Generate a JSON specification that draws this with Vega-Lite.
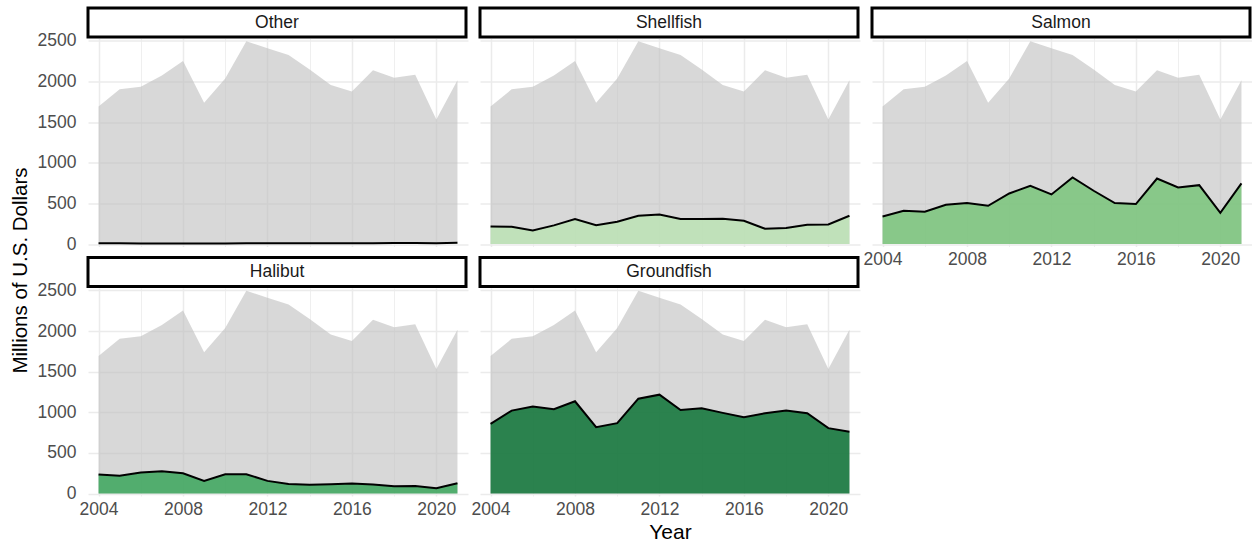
{
  "$schema": "https://vega.github.io/schema/vega-lite/v6.json",
  "background": "white",
  "padding": {"left": 10, "top": 6, "right": 0, "bottom": 0},
  "config": {"view": {"stroke": null}, "font": "Liberation Sans"},
  "datasets": {
    "totals": [
      {"year": 2004, "total": 1694}, {"year": 2005, "total": 1904}, {"year": 2006, "total": 1937},
      {"year": 2007, "total": 2076}, {"year": 2008, "total": 2253}, {"year": 2009, "total": 1739},
      {"year": 2010, "total": 2039}, {"year": 2011, "total": 2497}, {"year": 2012, "total": 2410},
      {"year": 2013, "total": 2327}, {"year": 2014, "total": 2150}, {"year": 2015, "total": 1957},
      {"year": 2016, "total": 1879}, {"year": 2017, "total": 2138}, {"year": 2018, "total": 2048},
      {"year": 2019, "total": 2085}, {"year": 2020, "total": 1534}, {"year": 2021, "total": 2015}
    ],
    "catch": [
      {"year": 2004, "species": "Other", "value": 10}, {"year": 2005, "species": "Other", "value": 9},
      {"year": 2006, "species": "Other", "value": 8}, {"year": 2007, "species": "Other", "value": 8},
      {"year": 2008, "species": "Other", "value": 7}, {"year": 2009, "species": "Other", "value": 7},
      {"year": 2010, "species": "Other", "value": 8}, {"year": 2011, "species": "Other", "value": 10},
      {"year": 2012, "species": "Other", "value": 11}, {"year": 2013, "species": "Other", "value": 10},
      {"year": 2014, "species": "Other", "value": 9}, {"year": 2015, "species": "Other", "value": 9},
      {"year": 2016, "species": "Other", "value": 10}, {"year": 2017, "species": "Other", "value": 11},
      {"year": 2018, "species": "Other", "value": 13}, {"year": 2019, "species": "Other", "value": 14},
      {"year": 2020, "species": "Other", "value": 10}, {"year": 2021, "species": "Other", "value": 15},

      {"year": 2004, "species": "Shellfish", "value": 215}, {"year": 2005, "species": "Shellfish", "value": 212},
      {"year": 2006, "species": "Shellfish", "value": 166}, {"year": 2007, "species": "Shellfish", "value": 230},
      {"year": 2008, "species": "Shellfish", "value": 307}, {"year": 2009, "species": "Shellfish", "value": 232},
      {"year": 2010, "species": "Shellfish", "value": 275}, {"year": 2011, "species": "Shellfish", "value": 348},
      {"year": 2012, "species": "Shellfish", "value": 365}, {"year": 2013, "species": "Shellfish", "value": 309},
      {"year": 2014, "species": "Shellfish", "value": 307}, {"year": 2015, "species": "Shellfish", "value": 311},
      {"year": 2016, "species": "Shellfish", "value": 287}, {"year": 2017, "species": "Shellfish", "value": 189},
      {"year": 2018, "species": "Shellfish", "value": 197}, {"year": 2019, "species": "Shellfish", "value": 238},
      {"year": 2020, "species": "Shellfish", "value": 242}, {"year": 2021, "species": "Shellfish", "value": 348},

      {"year": 2004, "species": "Salmon", "value": 340}, {"year": 2005, "species": "Salmon", "value": 410},
      {"year": 2006, "species": "Salmon", "value": 398}, {"year": 2007, "species": "Salmon", "value": 484},
      {"year": 2008, "species": "Salmon", "value": 504}, {"year": 2009, "species": "Salmon", "value": 471},
      {"year": 2010, "species": "Salmon", "value": 623}, {"year": 2011, "species": "Salmon", "value": 717},
      {"year": 2012, "species": "Salmon", "value": 611}, {"year": 2013, "species": "Salmon", "value": 820},
      {"year": 2014, "species": "Salmon", "value": 656}, {"year": 2015, "species": "Salmon", "value": 504},
      {"year": 2016, "species": "Salmon", "value": 492}, {"year": 2017, "species": "Salmon", "value": 807},
      {"year": 2018, "species": "Salmon", "value": 697}, {"year": 2019, "species": "Salmon", "value": 725},
      {"year": 2020, "species": "Salmon", "value": 385}, {"year": 2021, "species": "Salmon", "value": 746},

      {"year": 2004, "species": "Halibut", "value": 234}, {"year": 2005, "species": "Halibut", "value": 220},
      {"year": 2006, "species": "Halibut", "value": 258}, {"year": 2007, "species": "Halibut", "value": 275},
      {"year": 2008, "species": "Halibut", "value": 250}, {"year": 2009, "species": "Halibut", "value": 156},
      {"year": 2010, "species": "Halibut", "value": 238}, {"year": 2011, "species": "Halibut", "value": 238},
      {"year": 2012, "species": "Halibut", "value": 156}, {"year": 2013, "species": "Halibut", "value": 119},
      {"year": 2014, "species": "Halibut", "value": 107}, {"year": 2015, "species": "Halibut", "value": 115},
      {"year": 2016, "species": "Halibut", "value": 123}, {"year": 2017, "species": "Halibut", "value": 111},
      {"year": 2018, "species": "Halibut", "value": 90}, {"year": 2019, "species": "Halibut", "value": 94},
      {"year": 2020, "species": "Halibut", "value": 66}, {"year": 2021, "species": "Halibut", "value": 127},

      {"year": 2004, "species": "Groundfish", "value": 858}, {"year": 2005, "species": "Groundfish", "value": 1021},
      {"year": 2006, "species": "Groundfish", "value": 1070}, {"year": 2007, "species": "Groundfish", "value": 1038},
      {"year": 2008, "species": "Groundfish", "value": 1136}, {"year": 2009, "species": "Groundfish", "value": 817},
      {"year": 2010, "species": "Groundfish", "value": 866}, {"year": 2011, "species": "Groundfish", "value": 1168},
      {"year": 2012, "species": "Groundfish", "value": 1217}, {"year": 2013, "species": "Groundfish", "value": 1029},
      {"year": 2014, "species": "Groundfish", "value": 1050}, {"year": 2015, "species": "Groundfish", "value": 993},
      {"year": 2016, "species": "Groundfish", "value": 940}, {"year": 2017, "species": "Groundfish", "value": 989},
      {"year": 2018, "species": "Groundfish", "value": 1021}, {"year": 2019, "species": "Groundfish", "value": 989},
      {"year": 2020, "species": "Groundfish", "value": 805}, {"year": 2021, "species": "Groundfish", "value": 760}
    ]
  },
  "columns": 3,
  "bounds": "flush",
  "spacing": {"row": 1.5, "column": 12},
  "concat": [
    {
      "width": 378, "height": 29,
      "view": {"stroke": "black", "strokeWidth": 3, "fill": "white"},
      "data": {"name": "catch"},
      "transform": [{"filter": "datum.species == 'Other' && datum.year == 2004"}],
      "mark": {"type": "text", "fontSize": 17.5, "color": "#1a1a1a", "font": "Liberation Sans"},
      "encoding": {"text": {"field": "species", "type": "nominal"}}
    },
    {
      "width": 378, "height": 29,
      "view": {"stroke": "black", "strokeWidth": 3, "fill": "white"},
      "data": {"name": "catch"},
      "transform": [{"filter": "datum.species == 'Shellfish' && datum.year == 2004"}],
      "mark": {"type": "text", "fontSize": 17.5, "color": "#1a1a1a", "font": "Liberation Sans"},
      "encoding": {"text": {"field": "species", "type": "nominal"}}
    },
    {
      "width": 378, "height": 29,
      "view": {"stroke": "black", "strokeWidth": 3, "fill": "white"},
      "data": {"name": "catch"},
      "transform": [{"filter": "datum.species == 'Salmon' && datum.year == 2004"}],
      "mark": {"type": "text", "fontSize": 17.5, "color": "#1a1a1a", "font": "Liberation Sans"},
      "encoding": {"text": {"field": "species", "type": "nominal"}}
    },
    {
      "width": 380, "height": 208,
      "layer": [
        {
          "data": {"name": "totals"},
          "mark": {"type": "area", "color": "#bebebe", "opacity": 0.6},
          "encoding": {
            "x": {"field": "year", "type": "quantitative", "scale": {"domain": [2003.5, 2021.5], "nice": false, "zero": false},
              "axis": {"title": null, "labels": false, "ticks": false, "domain": false, "values": [2004, 2006, 2008, 2010, 2012, 2014, 2016, 2018, 2020], "gridColor": "#ebebeb", "gridWidth": {"condition": {"test": "datum.value % 4 == 0", "value": 1.5}, "value": 0.8}}},
            "y": {"field": "total", "type": "quantitative", "scale": {"domain": [-30, 2530], "nice": false, "zero": false},
              "axis": {"title": null, "ticks": false, "domain": false, "values": [0, 250, 500, 750, 1000, 1250, 1500, 1750, 2000, 2250, 2500], "format": "d", "labelExpr": "datum.value % 500 == 0 ? datum.label : ''", "labelFontSize": 17.5, "labelColor": "#4d4d4d", "labelPadding": 12, "gridColor": "#ebebeb", "gridWidth": {"condition": {"test": "datum.value % 500 == 0", "value": 1.5}, "value": 0.8}}},
            "y2": {"datum": 0}
          }
        },
        {
          "data": {"name": "catch"},
          "transform": [{"filter": "datum.species == 'Other'"}],
          "mark": {"type": "area", "opacity": 0.8},
          "encoding": {
            "x": {"field": "year", "type": "quantitative"},
            "y": {"field": "value", "type": "quantitative"},
            "y2": {"datum": 0},
            "color": {"field": "species", "type": "nominal", "legend": null, "scale": {"domain": ["Other", "Shellfish", "Salmon", "Halibut", "Groundfish"], "range": ["#edf8e9", "#bae4b3", "#74c476", "#31a354", "#006d2c"]}}
          }
        },
        {
          "data": {"name": "catch"},
          "transform": [{"filter": "datum.species == 'Other'"}],
          "mark": {"type": "line", "color": "black", "strokeWidth": 2},
          "encoding": {
            "x": {"field": "year", "type": "quantitative"},
            "y": {"field": "value", "type": "quantitative"}
          }
        }
      ]
    },
    {
      "width": 380, "height": 208,
      "layer": [
        {
          "data": {"name": "totals"},
          "mark": {"type": "area", "color": "#bebebe", "opacity": 0.6},
          "encoding": {
            "x": {"field": "year", "type": "quantitative", "scale": {"domain": [2003.5, 2021.5], "nice": false, "zero": false},
              "axis": {"title": null, "labels": false, "ticks": false, "domain": false, "values": [2004, 2006, 2008, 2010, 2012, 2014, 2016, 2018, 2020], "gridColor": "#ebebeb", "gridWidth": {"condition": {"test": "datum.value % 4 == 0", "value": 1.5}, "value": 0.8}}},
            "y": {"field": "total", "type": "quantitative", "scale": {"domain": [-30, 2530], "nice": false, "zero": false},
              "axis": {"title": null, "labels": false, "ticks": false, "domain": false, "values": [0, 250, 500, 750, 1000, 1250, 1500, 1750, 2000, 2250, 2500], "gridColor": "#ebebeb", "gridWidth": {"condition": {"test": "datum.value % 500 == 0", "value": 1.5}, "value": 0.8}}},
            "y2": {"datum": 0}
          }
        },
        {
          "data": {"name": "catch"},
          "transform": [{"filter": "datum.species == 'Shellfish'"}],
          "mark": {"type": "area", "opacity": 0.8},
          "encoding": {
            "x": {"field": "year", "type": "quantitative"},
            "y": {"field": "value", "type": "quantitative"},
            "y2": {"datum": 0},
            "color": {"field": "species", "type": "nominal", "legend": null, "scale": {"domain": ["Other", "Shellfish", "Salmon", "Halibut", "Groundfish"], "range": ["#edf8e9", "#bae4b3", "#74c476", "#31a354", "#006d2c"]}}
          }
        },
        {
          "data": {"name": "catch"},
          "transform": [{"filter": "datum.species == 'Shellfish'"}],
          "mark": {"type": "line", "color": "black", "strokeWidth": 2},
          "encoding": {
            "x": {"field": "year", "type": "quantitative"},
            "y": {"field": "value", "type": "quantitative"}
          }
        }
      ]
    },
    {
      "width": 380, "height": 208,
      "layer": [
        {
          "data": {"name": "totals"},
          "mark": {"type": "area", "color": "#bebebe", "opacity": 0.6},
          "encoding": {
            "x": {"field": "year", "type": "quantitative", "scale": {"domain": [2003.5, 2021.5], "nice": false, "zero": false},
              "axis": {"title": null, "ticks": false, "domain": false, "labelFlush": false, "values": [2004, 2006, 2008, 2010, 2012, 2014, 2016, 2018, 2020], "format": "d", "labelExpr": "datum.value % 4 == 0 ? datum.label : ''", "labelFontSize": 17.5, "labelColor": "#4d4d4d", "labelPadding": 4, "gridColor": "#ebebeb", "gridWidth": {"condition": {"test": "datum.value % 4 == 0", "value": 1.5}, "value": 0.8}}},
            "y": {"field": "total", "type": "quantitative", "scale": {"domain": [-30, 2530], "nice": false, "zero": false},
              "axis": {"title": null, "labels": false, "ticks": false, "domain": false, "values": [0, 250, 500, 750, 1000, 1250, 1500, 1750, 2000, 2250, 2500], "gridColor": "#ebebeb", "gridWidth": {"condition": {"test": "datum.value % 500 == 0", "value": 1.5}, "value": 0.8}}},
            "y2": {"datum": 0}
          }
        },
        {
          "data": {"name": "catch"},
          "transform": [{"filter": "datum.species == 'Salmon'"}],
          "mark": {"type": "area", "opacity": 0.8},
          "encoding": {
            "x": {"field": "year", "type": "quantitative"},
            "y": {"field": "value", "type": "quantitative"},
            "y2": {"datum": 0},
            "color": {"field": "species", "type": "nominal", "legend": null, "scale": {"domain": ["Other", "Shellfish", "Salmon", "Halibut", "Groundfish"], "range": ["#edf8e9", "#bae4b3", "#74c476", "#31a354", "#006d2c"]}}
          }
        },
        {
          "data": {"name": "catch"},
          "transform": [{"filter": "datum.species == 'Salmon'"}],
          "mark": {"type": "line", "color": "black", "strokeWidth": 2},
          "encoding": {
            "x": {"field": "year", "type": "quantitative"},
            "y": {"field": "value", "type": "quantitative"}
          }
        }
      ]
    },
    {
      "width": 380, "height": 7.5,
      "data": {"name": "totals"},
      "transform": [{"filter": "false"}],
      "mark": "point"
    },
    {
      "width": 380, "height": 7.5,
      "data": {"name": "totals"},
      "transform": [{"filter": "false"}],
      "mark": "point"
    },
    {
      "width": 380, "height": 7.5,
      "data": {"name": "totals"},
      "transform": [{"filter": "false"}],
      "mark": "point"
    },
    {
      "width": 378, "height": 29,
      "view": {"stroke": "black", "strokeWidth": 3, "fill": "white"},
      "data": {"name": "catch"},
      "transform": [{"filter": "datum.species == 'Halibut' && datum.year == 2004"}],
      "mark": {"type": "text", "fontSize": 17.5, "color": "#1a1a1a", "font": "Liberation Sans"},
      "encoding": {"text": {"field": "species", "type": "nominal"}}
    },
    {
      "width": 378, "height": 29,
      "view": {"stroke": "black", "strokeWidth": 3, "fill": "white"},
      "data": {"name": "catch"},
      "transform": [{"filter": "datum.species == 'Groundfish' && datum.year == 2004"}],
      "mark": {"type": "text", "fontSize": 17.5, "color": "#1a1a1a", "font": "Liberation Sans"},
      "encoding": {"text": {"field": "species", "type": "nominal"}}
    },
    {
      "width": 380, "height": 7.5,
      "data": {"name": "totals"},
      "transform": [{"filter": "false"}],
      "mark": "point"
    },
    {
      "width": 380, "height": 208,
      "layer": [
        {
          "data": {"name": "totals"},
          "mark": {"type": "area", "color": "#bebebe", "opacity": 0.6},
          "encoding": {
            "x": {"field": "year", "type": "quantitative", "scale": {"domain": [2003.5, 2021.5], "nice": false, "zero": false},
              "axis": {"title": null, "ticks": false, "domain": false, "labelFlush": false, "values": [2004, 2006, 2008, 2010, 2012, 2014, 2016, 2018, 2020], "format": "d", "labelExpr": "datum.value % 4 == 0 ? datum.label : ''", "labelFontSize": 17.5, "labelColor": "#4d4d4d", "labelPadding": 4, "gridColor": "#ebebeb", "gridWidth": {"condition": {"test": "datum.value % 4 == 0", "value": 1.5}, "value": 0.8}}},
            "y": {"field": "total", "type": "quantitative", "scale": {"domain": [-30, 2530], "nice": false, "zero": false},
              "axis": {"title": "Millions of U.S. Dollars", "titleFontSize": 20.5, "titleFontWeight": "normal", "titleColor": "#000000", "titleY": -18, "titlePadding": 7, "ticks": false, "domain": false, "values": [0, 250, 500, 750, 1000, 1250, 1500, 1750, 2000, 2250, 2500], "format": "d", "labelExpr": "datum.value % 500 == 0 ? datum.label : ''", "labelFontSize": 17.5, "labelColor": "#4d4d4d", "labelPadding": 12, "gridColor": "#ebebeb", "gridWidth": {"condition": {"test": "datum.value % 500 == 0", "value": 1.5}, "value": 0.8}}},
            "y2": {"datum": 0}
          }
        },
        {
          "data": {"name": "catch"},
          "transform": [{"filter": "datum.species == 'Halibut'"}],
          "mark": {"type": "area", "opacity": 0.8},
          "encoding": {
            "x": {"field": "year", "type": "quantitative"},
            "y": {"field": "value", "type": "quantitative"},
            "y2": {"datum": 0},
            "color": {"field": "species", "type": "nominal", "legend": null, "scale": {"domain": ["Other", "Shellfish", "Salmon", "Halibut", "Groundfish"], "range": ["#edf8e9", "#bae4b3", "#74c476", "#31a354", "#006d2c"]}}
          }
        },
        {
          "data": {"name": "catch"},
          "transform": [{"filter": "datum.species == 'Halibut'"}],
          "mark": {"type": "line", "color": "black", "strokeWidth": 2},
          "encoding": {
            "x": {"field": "year", "type": "quantitative"},
            "y": {"field": "value", "type": "quantitative"}
          }
        }
      ]
    },
    {
      "width": 380, "height": 208,
      "layer": [
        {
          "data": {"name": "totals"},
          "mark": {"type": "area", "color": "#bebebe", "opacity": 0.6},
          "encoding": {
            "x": {"field": "year", "type": "quantitative", "scale": {"domain": [2003.5, 2021.5], "nice": false, "zero": false},
              "axis": {"title": "Year", "titleFontSize": 21, "titleFontWeight": "normal", "titleColor": "#000000", "titlePadding": 4, "ticks": false, "domain": false, "labelFlush": false, "values": [2004, 2006, 2008, 2010, 2012, 2014, 2016, 2018, 2020], "format": "d", "labelExpr": "datum.value % 4 == 0 ? datum.label : ''", "labelFontSize": 17.5, "labelColor": "#4d4d4d", "labelPadding": 4, "gridColor": "#ebebeb", "gridWidth": {"condition": {"test": "datum.value % 4 == 0", "value": 1.5}, "value": 0.8}}},
            "y": {"field": "total", "type": "quantitative", "scale": {"domain": [-30, 2530], "nice": false, "zero": false},
              "axis": {"title": null, "labels": false, "ticks": false, "domain": false, "values": [0, 250, 500, 750, 1000, 1250, 1500, 1750, 2000, 2250, 2500], "gridColor": "#ebebeb", "gridWidth": {"condition": {"test": "datum.value % 500 == 0", "value": 1.5}, "value": 0.8}}},
            "y2": {"datum": 0}
          }
        },
        {
          "data": {"name": "catch"},
          "transform": [{"filter": "datum.species == 'Groundfish'"}],
          "mark": {"type": "area", "opacity": 0.8},
          "encoding": {
            "x": {"field": "year", "type": "quantitative"},
            "y": {"field": "value", "type": "quantitative"},
            "y2": {"datum": 0},
            "color": {"field": "species", "type": "nominal", "legend": null, "scale": {"domain": ["Other", "Shellfish", "Salmon", "Halibut", "Groundfish"], "range": ["#edf8e9", "#bae4b3", "#74c476", "#31a354", "#006d2c"]}}
          }
        },
        {
          "data": {"name": "catch"},
          "transform": [{"filter": "datum.species == 'Groundfish'"}],
          "mark": {"type": "line", "color": "black", "strokeWidth": 2},
          "encoding": {
            "x": {"field": "year", "type": "quantitative"},
            "y": {"field": "value", "type": "quantitative"}
          }
        }
      ]
    }
  ]
}
